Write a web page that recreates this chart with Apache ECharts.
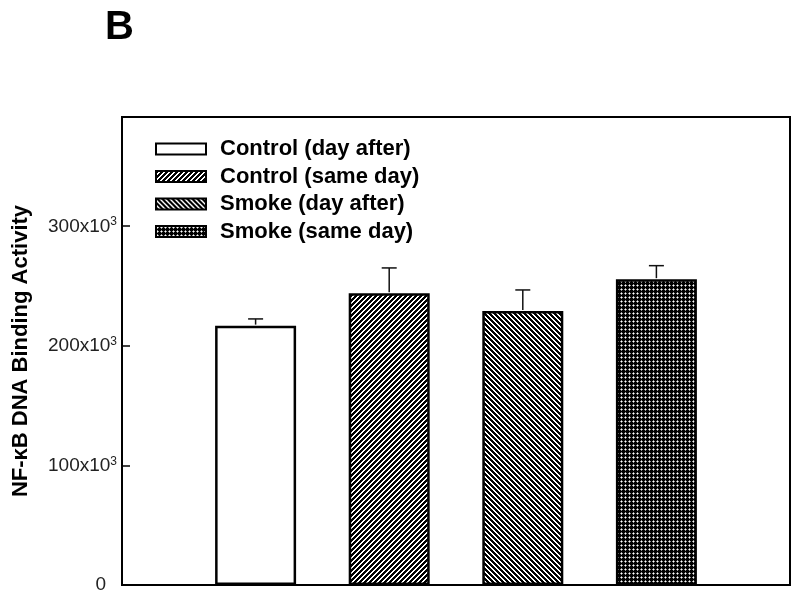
<!DOCTYPE html>
<html>
<head>
<meta charset="utf-8">
<script src="https://cdn.jsdelivr.net/npm/echarts@6/dist/echarts.min.js"></script>
<style>
  html, body { margin: 0; padding: 0; background: #fff; }
  #chart { width: 800px; height: 598px; }
</style>
</head>
<body>
<div id="chart"></div>
<script>
// groups and values
const groups = ['Control (day after)', 'Control (same day)', 'Smoke (day after)', 'Smoke (same day)']
const means = [216700, 243800, 229000, 255500]
const sems = [5600, 21100, 17500, 11300]
const yTicks = [0, 100000, 200000, 300000]

// small canvas tiles used as fill patterns, shade() gives grey level 0..255
const makeTile = (size, shade) => {
    let c = document.createElement('canvas')
    c.width = size
    c.height = size
    let ctx = c.getContext('2d')
    let img = ctx.createImageData(size, size)
    for (let y = 0; y < size; y++) {
        for (let x = 0; x < size; x++) {
            let k = shade(x, y)
            let i = (y * size + x) * 4
            img.data[i] = k
            img.data[i + 1] = k
            img.data[i + 2] = k
            img.data[i + 3] = 255
        }
    }
    ctx.putImageData(img, 0, 0)
    return c
}

const dotShade = (x, y) => {
    if (x === 1 && y === 1) return 255
    if (Math.abs(x - 1) + Math.abs(y - 1) === 1) return 150
    return 0
}

const fills = [
    '#ffffff',
    { image: makeTile(5, (x, y) => (x + y) % 5 < 3 ? 0 : 255), repeat: 'repeat' },
    { image: makeTile(5, (x, y) => ((x - y) % 5 + 5) % 5 < 3 ? 0 : 255), repeat: 'repeat' },
    { image: makeTile(4, dotShade), repeat: 'repeat' }
]

const categories = [''].concat(groups).concat([''])

let barSeries = groups.map((name, i) => {
    let data = categories.map(() => '-')
    data[i + 1] = means[i]
    return {
        name: name,
        type: 'bar',
        barWidth: 81,
        barGap: '-100%',
        itemStyle: {
            color: fills[i],
            borderColor: '#000',
            borderWidth: 2.5
        },
        emphasis: { disabled: true },
        data: data
    }
})

let errSeries = {
    type: 'custom',
    silent: true,
    z: 1,
    renderItem(params, api) {
        let x = api.value(0)
        let base = api.coord([x, api.value(1)])
        let top = api.coord([x, api.value(1) + api.value(2)])
        let half = 7.5
        return {
            type: 'group',
            children: [
                { type: 'line', shape: { x1: base[0], y1: base[1] - 1, x2: top[0], y2: top[1] }, style: { stroke: '#111', lineWidth: 1.5 } },
                { type: 'line', shape: { x1: top[0] - half, y1: top[1], x2: top[0] + half, y2: top[1] }, style: { stroke: '#111', lineWidth: 1.5 } }
            ]
        }
    },
    data: groups.map((g, i) => [i + 1, means[i], sems[i]])
}

let option = {
    backgroundColor: '#fff',
    animation: false,
    title: {
        text: 'B',
        left: 100,
        top: 3,
        textStyle: { fontFamily: 'Liberation Sans', fontWeight: 'bold', fontSize: 40, color: '#000' }
    },
    legend: {
        orient: 'vertical',
        left: 150,
        top: 133,
        itemWidth: 50,
        itemHeight: 11,
        itemGap: 5.5,
        icon: 'rect',
        selectedMode: false,
        data: groups,
        itemStyle: { borderColor: '#000', borderWidth: 2 },
        textStyle: {
            fontFamily: 'Liberation Sans',
            fontWeight: 'bold',
            fontSize: 22,
            lineHeight: 22,
            color: '#000',
            padding: [0, 0, 0, 9]
        }
    },
    grid: {
        left: 122,
        right: 10,
        top: 117,
        bottom: 13,
        show: true,
        borderColor: '#000',
        borderWidth: 2
    },
    xAxis: {
        type: 'category',
        data: categories,
        boundaryGap: false,
        axisLine: { lineStyle: { color: '#000', width: 2 } },
        axisTick: { show: false },
        axisLabel: { show: false },
        splitLine: { show: false }
    },
    yAxis: {
        type: 'value',
        min: 0,
        max: 391000,
        interval: 100000,
        name: 'NF-κB DNA Binding Activity',
        nameLocation: 'middle',
        nameGap: 90,
        nameTextStyle: { fontFamily: 'Liberation Sans', fontWeight: 'bold', fontSize: 22, color: '#000' },
        axisLine: { show: true, lineStyle: { color: '#000', width: 2 } },
        axisTick: { show: true, inside: true, length: 8, lineStyle: { color: '#000', width: 1.5 } },
        splitLine: { show: false },
        axisLabel: {
            margin: 5,
            fontFamily: 'Liberation Sans',
            fontSize: 19,
            color: '#222',
            formatter(v) {
                if (yTicks.indexOf(v) < 0) return ''
                if (v === 0) return '{z|0}'
                return '{b|' + v / 1000 + 'x10}{s|3}'
            },
            rich: {
                z: { fontFamily: 'Liberation Sans', fontSize: 19, color: '#222', padding: [0, 11, 0, 0] },
                b: { fontFamily: 'Liberation Sans', fontSize: 19, color: '#222', verticalAlign: 'bottom' },
                s: { fontFamily: 'Liberation Sans', fontSize: 12, color: '#222', verticalAlign: 'bottom', padding: [0, 0, 8, 0] }
            }
        }
    },
    series: barSeries.concat([errSeries])
}

let chart = echarts.init(document.getElementById('chart'))
chart.setOption(option)
</script>
</body>
</html>
